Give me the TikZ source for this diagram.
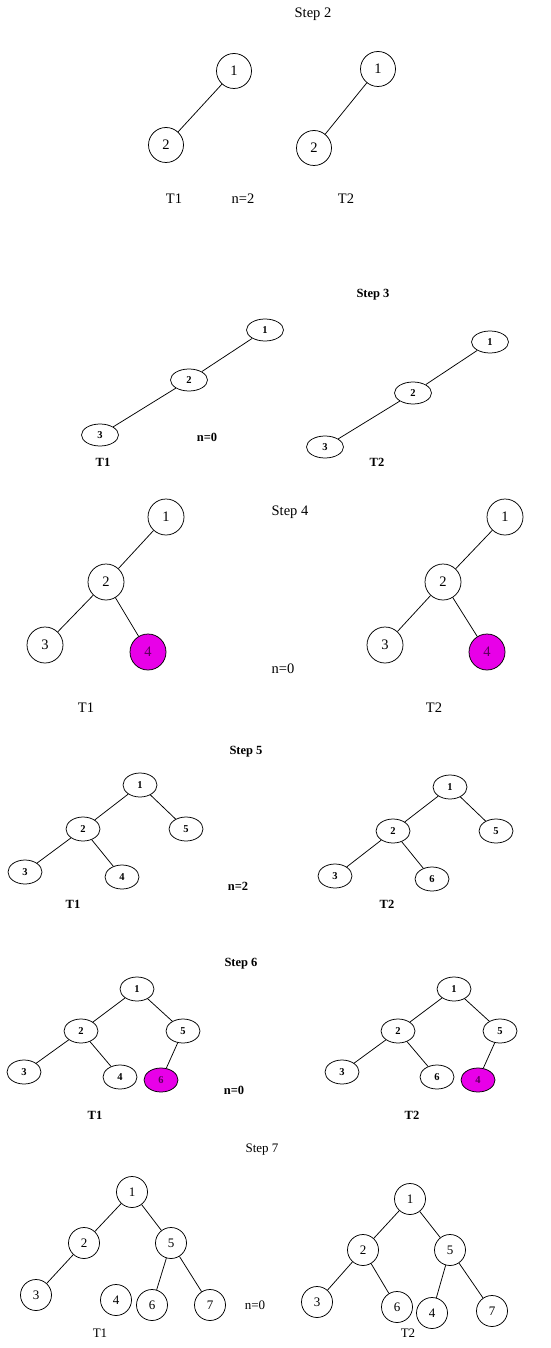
\documentclass[tikz,border=0pt]{standalone}
\usepackage{fontspec}
\setmainfont{Liberation Serif}
\usetikzlibrary{shapes.geometric}
\definecolor{hitfill}{RGB}{232,0,232}
\definecolor{hittext}{RGB}{90,0,90}
\tikzset{
	big/.style={font=\fontsize{14.5}{16}\selectfont},
	mid/.style={font=\fontsize{13}{15}\selectfont},
	tiny/.style={font=\bfseries\fontsize{12.5}{14}\selectfont},
	rnd/.style={draw,circle,inner sep=0pt,minimum size=#1},
	ovl/.style={draw,ellipse,inner sep=0pt,minimum width=34pt,minimum height=24pt,font=\bfseries\fontsize{10.5}{12}\selectfont},
	hit/.style={fill=hitfill,text=hittext}
}

\begin{document}
\begin{tikzpicture}[x=1pt,y=-1pt,line width=0.75pt]
	\useasboundingbox (0,0) rectangle (550,1348);
	% step 2
	\node[big] (st2) at (313,14) {Step 2};
	\node[big,rnd=35pt] (s2l1) at (234,71) {1};
	\node[big,rnd=35pt] (s2l2) at (166,145) {2};
	\node[big,rnd=35pt] (s2r1) at (378,69) {1};
	\node[big,rnd=35pt] (s2r2) at (314,148) {2};
	\draw (s2l1) -- (s2l2);
	\draw (s2r1) -- (s2r2);
	\node[big] (s2t1) at (174,199) {T1};
	\node[big] (s2n) at (243,199) {n=2};
	\node[big] (s2t2) at (346,199) {T2};
	% step 3
	\node[tiny] (st3) at (373,295) {Step 3};
	\node[ovl,minimum width=37pt,minimum height=22pt] (s3l1) at (265,330) {1};
	\node[ovl,minimum width=37pt,minimum height=22pt] (s3l2) at (189,380) {2};
	\node[ovl,minimum width=37pt,minimum height=22pt] (s3l3) at (100,435) {3};
	\node[ovl,minimum width=37pt,minimum height=22pt] (s3r1) at (490,342) {1};
	\node[ovl,minimum width=37pt,minimum height=22pt] (s3r2) at (413,393) {2};
	\node[ovl,minimum width=37pt,minimum height=22pt] (s3r3) at (325,447) {3};
	\draw (s3l1) -- (s3l2);
	\draw (s3l2) -- (s3l3);
	\draw (s3r1) -- (s3r2);
	\draw (s3r2) -- (s3r3);
	\node[tiny] (s3n) at (207,437) {n=0};
	\node[tiny] (s3t1) at (103,462) {T1};
	\node[tiny] (s3t2) at (377,462) {T2};
	% step 4
	\node[big] (st4) at (290,512) {Step 4};
	\node[big,rnd=36pt] (s4l1) at (166,517) {1};
	\node[big,rnd=36pt] (s4l2) at (106,582) {2};
	\node[big,rnd=36pt] (s4l3) at (45,645) {3};
	\node[big,rnd=36pt,hit] (s4l4) at (148,652) {4};
	\node[big,rnd=36pt] (s4r1) at (505,517) {1};
	\node[big,rnd=36pt] (s4r2) at (443,582) {2};
	\node[big,rnd=36pt] (s4r3) at (385,645) {3};
	\node[big,rnd=36pt,hit] (s4r4) at (487,652) {4};
	\draw (s4l1) -- (s4l2);
	\draw (s4l2) -- (s4l3);
	\draw (s4l2) -- (s4l4);
	\draw (s4r1) -- (s4r2);
	\draw (s4r2) -- (s4r3);
	\draw (s4r2) -- (s4r4);
	\node[big] (s4n) at (283,669) {n=0};
	\node[big] (s4t1) at (86,708) {T1};
	\node[big] (s4t2) at (434,708) {T2};
	% step 5
	\node[tiny] (st5) at (246,752) {Step 5};
	\node[ovl] (s5l1) at (140,785) {1};
	\node[ovl] (s5l2) at (83,829) {2};
	\node[ovl] (s5l5) at (186,829) {5};
	\node[ovl] (s5l3) at (25,872) {3};
	\node[ovl] (s5l4) at (122,877) {4};
	\node[ovl] (s5r1) at (450,787) {1};
	\node[ovl] (s5r2) at (393,831) {2};
	\node[ovl] (s5r5) at (496,831) {5};
	\node[ovl] (s5r3) at (335,876) {3};
	\node[ovl] (s5r6) at (432,879) {6};
	\draw (s5l1) -- (s5l2);
	\draw (s5l1) -- (s5l5);
	\draw (s5l2) -- (s5l3);
	\draw (s5l2) -- (s5l4);
	\draw (s5r1) -- (s5r2);
	\draw (s5r1) -- (s5r5);
	\draw (s5r2) -- (s5r3);
	\draw (s5r2) -- (s5r6);
	\node[tiny] (s5n) at (238,886) {n=2};
	\node[tiny] (s5t1) at (73,904) {T1};
	\node[tiny] (s5t2) at (387,904) {T2};
	% step 6
	\node[tiny] (st6) at (241,964) {Step 6};
	\node[ovl] (s6l1) at (137,989) {1};
	\node[ovl] (s6l2) at (81,1031) {2};
	\node[ovl] (s6l5) at (183,1031) {5};
	\node[ovl] (s6l3) at (24,1072) {3};
	\node[ovl] (s6l4) at (120,1077) {4};
	\node[ovl,hit] (s6l6) at (161,1080) {6};
	\node[ovl] (s6r1) at (454,989) {1};
	\node[ovl] (s6r2) at (398,1031) {2};
	\node[ovl] (s6r5) at (500,1031) {5};
	\node[ovl] (s6r3) at (342,1072) {3};
	\node[ovl] (s6r6) at (437,1077) {6};
	\node[ovl,hit] (s6r4) at (478,1080) {4};
	\draw (s6l1) -- (s6l2);
	\draw (s6l1) -- (s6l5);
	\draw (s6l2) -- (s6l3);
	\draw (s6l2) -- (s6l4);
	\draw (s6l5) -- (s6l6);
	\draw (s6r1) -- (s6r2);
	\draw (s6r1) -- (s6r5);
	\draw (s6r2) -- (s6r3);
	\draw (s6r2) -- (s6r6);
	\draw (s6r5) -- (s6r4);
	\node[tiny] (s6n) at (234,1090) {n=0};
	\node[tiny] (s6t1) at (95,1115) {T1};
	\node[tiny] (s6t2) at (412,1115) {T2};
	% step 7
	\node[mid] (st7) at (262,1150) {Step 7};
	\node[mid,rnd=31pt] (s7l1) at (132,1192) {1};
	\node[mid,rnd=31pt] (s7l2) at (84,1243) {2};
	\node[mid,rnd=31pt] (s7l5) at (171,1243) {5};
	\node[mid,rnd=31pt] (s7l3) at (36,1295) {3};
	\node[mid,rnd=31pt] (s7l4) at (116,1300) {4};
	\node[mid,rnd=31pt] (s7l6) at (152,1305) {6};
	\node[mid,rnd=31pt] (s7l7) at (210,1305) {7};
	\node[mid,rnd=31pt] (s7r1) at (410,1199) {1};
	\node[mid,rnd=31pt] (s7r2) at (363,1250) {2};
	\node[mid,rnd=31pt] (s7r5) at (450,1250) {5};
	\node[mid,rnd=31pt] (s7r3) at (317,1302) {3};
	\node[mid,rnd=31pt] (s7r6) at (397,1307) {6};
	\node[mid,rnd=31pt] (s7r4) at (432,1313) {4};
	\node[mid,rnd=31pt] (s7r7) at (492,1311) {7};
	\draw (s7l1) -- (s7l2);
	\draw (s7l1) -- (s7l5);
	\draw (s7l2) -- (s7l3);
	\draw (s7l5) -- (s7l6);
	\draw (s7l5) -- (s7l7);
	\draw (s7r1) -- (s7r2);
	\draw (s7r1) -- (s7r5);
	\draw (s7r2) -- (s7r3);
	\draw (s7r2) -- (s7r6);
	\draw (s7r5) -- (s7r4);
	\draw (s7r5) -- (s7r7);
	\node[mid] (s7n) at (255,1305) {n=0};
	\node[mid] (s7t1) at (100,1333) {T1};
	\node[mid] (s7t2) at (408,1333) {T2};
\end{tikzpicture}
\end{document}
